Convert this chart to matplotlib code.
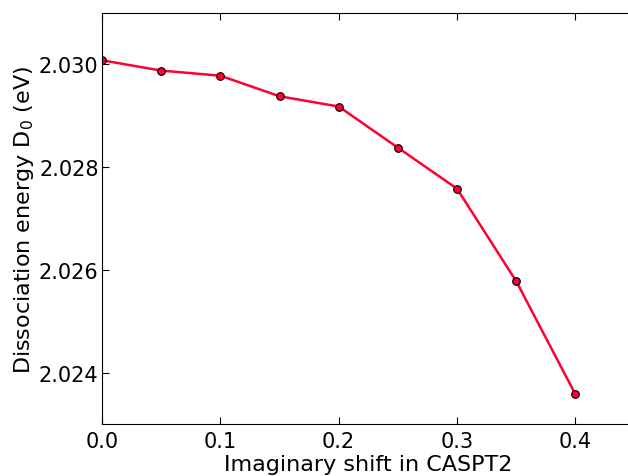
import matplotlib
matplotlib.use("Agg")
import matplotlib.pyplot as plt

# imaginary shift values and dissociation energies (eV)
shift = [0.0, 0.05, 0.1, 0.15, 0.2, 0.25, 0.3, 0.35, 0.4]
d0 = [2.03008, 2.02988, 2.02978, 2.02938, 2.02918, 2.02838, 2.02758, 2.02578, 2.02358]

fig = plt.figure(figsize=(6.28, 4.77), dpi=100)
ax = fig.add_axes([0.1624, 0.109, 0.848, 0.8616])

ax.plot(shift, d0, color='#ff0033', lw=1.8, marker='o', ms=5.5,
        markerfacecolor='#ff0033', markeredgecolor='black', markeredgewidth=0.8)

ax.set_xlim(0, 0.45)
ax.set_ylim(2.023, 2.031)
ax.set_xticks([0.0, 0.1, 0.2, 0.3, 0.4])
ax.set_yticks([2.024, 2.026, 2.028, 2.030])
ax.set_yticklabels(['2.024', '2.026', '2.028', '2.030'])

ax.tick_params(direction='in', top=True, right=True, labelsize=15, length=5)
ax.tick_params(axis='x', pad=5)
ax.tick_params(axis='y', pad=2.5)
ax.spines['right'].set_visible(False)

ax.set_xlabel("Imaginary shift in CASPT2", fontsize=16, labelpad=2)
ax.set_ylabel("Dissociation energy D$_0$ (eV)", fontsize=16, labelpad=2)

fig.savefig("out.png", dpi=100)
